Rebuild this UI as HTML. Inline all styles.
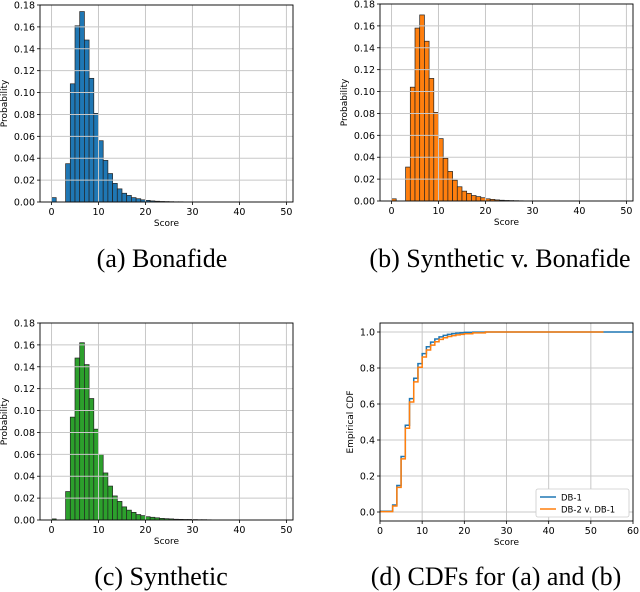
<!DOCTYPE html>
<html><head><meta charset="utf-8"><style>
body{margin:0;background:#fff;}
svg{display:block;font-family:"DejaVu Sans","Liberation Sans",sans-serif;}
.cap{font-family:"Liberation Serif",serif;font-size:26px;fill:#000;}
</style></head><body>
<svg id="fig" width="640" height="592" viewBox="0 0 640 592">
<text class="cap" x="162" y="267" text-anchor="middle">(a) Bonafide</text>
<text class="cap" x="500" y="267" text-anchor="middle">(b) Synthetic v. Bonafide</text>
<text class="cap" x="161" y="585" text-anchor="middle">(c) Synthetic</text>
<text class="cap" x="496" y="585" text-anchor="middle">(d) CDFs for (a) and (b)</text>
</svg>
<script>
const histA=[0.004,0,0,0.035,0.108,0.161,0.174,0.148,0.113,0.081,0.056,0.038,0.026,0.017,0.012,0.008,0.006,0.004,0.003,0.002,0.0015,0.001,0.0007,0.0005,0.0004,0.0003,0.0002,0.0002,0.0001,0.0001,0.0001];
const histB=[0.002,0,0,0.031,0.104,0.158,0.170,0.146,0.112,0.081,0.057,0.039,0.027,0.019,0.013,0.009,0.007,0.005,0.004,0.003,0.002,0.0015,0.001,0.0007,0.0005,0.0004,0.0003,0.0002,0.0001];
const histC=[0.001,0,0,0.026,0.094,0.148,0.162,0.142,0.111,0.083,0.060,0.043,0.031,0.022,0.017,0.012,0.009,0.007,0.005,0.004,0.003,0.0025,0.002,0.0015,0.0012,0.001,0.0007,0.0006,0.0005,0.0005,0.0004,0.0003,0.0003,0.0002];
const histTicksX=[0,10,20,30,40,50];
const histTicksY=[0,0.02,0.04,0.06,0.08,0.10,0.12,0.14,0.16,0.18];
const cdfX=[0,3,4,5,6,7,8,9,10,11,12,13,14,15,16,17,18,19,20,22,25];
const cdfDB1=[0.004,0.039,0.147,0.308,0.482,0.630,0.743,0.824,0.880,0.918,0.944,0.961,0.973,0.981,0.987,0.991,0.994,0.996,0.998,0.999,1.0];
const cdfDB2=[0.002,0.033,0.137,0.295,0.465,0.611,0.723,0.804,0.861,0.900,0.927,0.946,0.959,0.968,0.975,0.980,0.984,0.987,0.990,0.995,1.0];
const cdfEnd1=60, cdfEnd2=53;
const cdfTicksX=[0,10,20,30,40,50,60];
const cdfTicksY=[0,0.2,0.4,0.6,0.8,1.0];

const NS='http://www.w3.org/2000/svg';
const svg=document.getElementById('fig');
function el(t,a,p){const e=document.createElementNS(NS,t);for(const k in a)e.setAttribute(k,a[k]);(p||svg).appendChild(e);return e;}

function hist(name,data,color,L,R,T,B,xmin,xmax){
  const g=el('g',{});
  
  
  const sx=v=>L+(v-xmin)/(xmax-xmin)*(R-L);
  const sy=v=>B-(v/0.18)*(B-T);
  data.forEach((v,i)=>{ if(v<=0)return;
    const r=el('rect',{x:sx(i),y:sy(v),width:sx(i+1)-sx(i),height:B-sy(v),fill:color,stroke:'#222','stroke-width':0.7},g);
    
    
  });
  histTicksX.forEach(t=>{el('line',{x1:sx(t),x2:sx(t),y1:T,y2:B,stroke:'#c8c8c8','stroke-width':1},g);
    el('line',{x1:sx(t),x2:sx(t),y1:B,y2:B+3,stroke:'#000','stroke-width':0.8},g);
    const tx=el('text',{x:sx(t),y:B+13,'font-size':9.5,'text-anchor':'middle'},g);tx.textContent=t;});
  histTicksY.forEach(t=>{el('line',{x1:L,x2:R,y1:sy(t),y2:sy(t),stroke:'#c8c8c8','stroke-width':1},g);
    el('line',{x1:L-3,x2:L,y1:sy(t),y2:sy(t),stroke:'#000','stroke-width':0.8},g);
    const tx=el('text',{x:L-5,y:sy(t)+3.5,'font-size':9.5,'text-anchor':'end'},g);tx.textContent=t.toFixed(2);});
  el('rect',{x:L,y:T,width:R-L,height:B-T,fill:'none',stroke:'#000','stroke-width':0.9},g);
  const xl=el('text',{x:(L+R)/2,y:B+24,'font-size':9,'text-anchor':'middle'},g);xl.textContent='Score';
  const yl=el('text',{x:0,y:0,'font-size':9,'text-anchor':'middle',transform:`translate(${L-33},${(T+B)/2}) rotate(-90)`},g);yl.textContent='Probability';
}
hist('histogram-bonafide',histA,'#1f77b4',40,293,5,202,-2.45,51.4);
hist('histogram-synthetic-v-bonafide',histB,'#ff7f0e',380,633,4,201,-2.45,51.4);
hist('histogram-synthetic',histC,'#2ca02c',40,293,323,520,-2.45,51.4);

(function(){
  const L=380,R=633,T=323,B=521;
  const g=el('g',{});
  
  
  const sx=v=>L+v/60*(R-L);
  const sy=v=>B-(v+0.05)/1.1*(B-T);
  cdfTicksX.forEach(t=>{el('line',{x1:sx(t),x2:sx(t),y1:T,y2:B,stroke:'#c8c8c8','stroke-width':1},g);
    el('line',{x1:sx(t),x2:sx(t),y1:B,y2:B+3,stroke:'#000','stroke-width':0.8},g);
    const tx=el('text',{x:sx(t),y:B+13,'font-size':9.5,'text-anchor':'middle'},g);tx.textContent=t;});
  cdfTicksY.forEach(t=>{el('line',{x1:L,x2:R,y1:sy(t),y2:sy(t),stroke:'#c8c8c8','stroke-width':1},g);
    el('line',{x1:L-3,x2:L,y1:sy(t),y2:sy(t),stroke:'#000','stroke-width':0.8},g);
    const tx=el('text',{x:L-5,y:sy(t)+3.5,'font-size':9.5,'text-anchor':'end'},g);tx.textContent=t.toFixed(1);});
  function step(ys,end,color,name){
    let d=`M${sx(0)},${sy(ys[0])}`;
    for(let i=1;i<cdfX.length;i++){d+=` H${sx(cdfX[i])} V${sy(ys[i])}`;}
    d+=` H${sx(end)}`;
    const p=el('path',{d:d,fill:'none',stroke:color,'stroke-width':1.5},g);
    
    
  }
  step(cdfDB1,cdfEnd1,'#1f77b4','line-db1');
  step(cdfDB2,cdfEnd2,'#ff7f0e','line-db2-v-db1');
  el('rect',{x:L,y:T,width:R-L,height:B-T,fill:'none',stroke:'#000','stroke-width':0.9},g);
  const xl=el('text',{x:(L+R)/2,y:B+24,'font-size':9,'text-anchor':'middle'},g);xl.textContent='Score';
  const yl=el('text',{x:0,y:0,'font-size':9,'text-anchor':'middle',transform:`translate(${L-27},${(T+B)/2}) rotate(-90)`},g);yl.textContent='Empirical CDF';
  const lg=el('g',{},g);
  
  
  el('rect',{x:536,y:489,width:93,height:28,fill:'#fff',stroke:'#ccc','stroke-width':0.8,rx:2},lg);
  el('line',{x1:540,x2:556,y1:497,y2:497,stroke:'#1f77b4','stroke-width':1.5},lg);
  el('line',{x1:540,x2:556,y1:509,y2:509,stroke:'#ff7f0e','stroke-width':1.5},lg);
  const t1=el('text',{x:561,y:500.5,'font-size':8.5},lg);t1.textContent='DB-1';
  
  
  const t2=el('text',{x:561,y:512.5,'font-size':8.5},lg);t2.textContent='DB-2 v. DB-1';
  
  
})();
</script>
</body></html>
